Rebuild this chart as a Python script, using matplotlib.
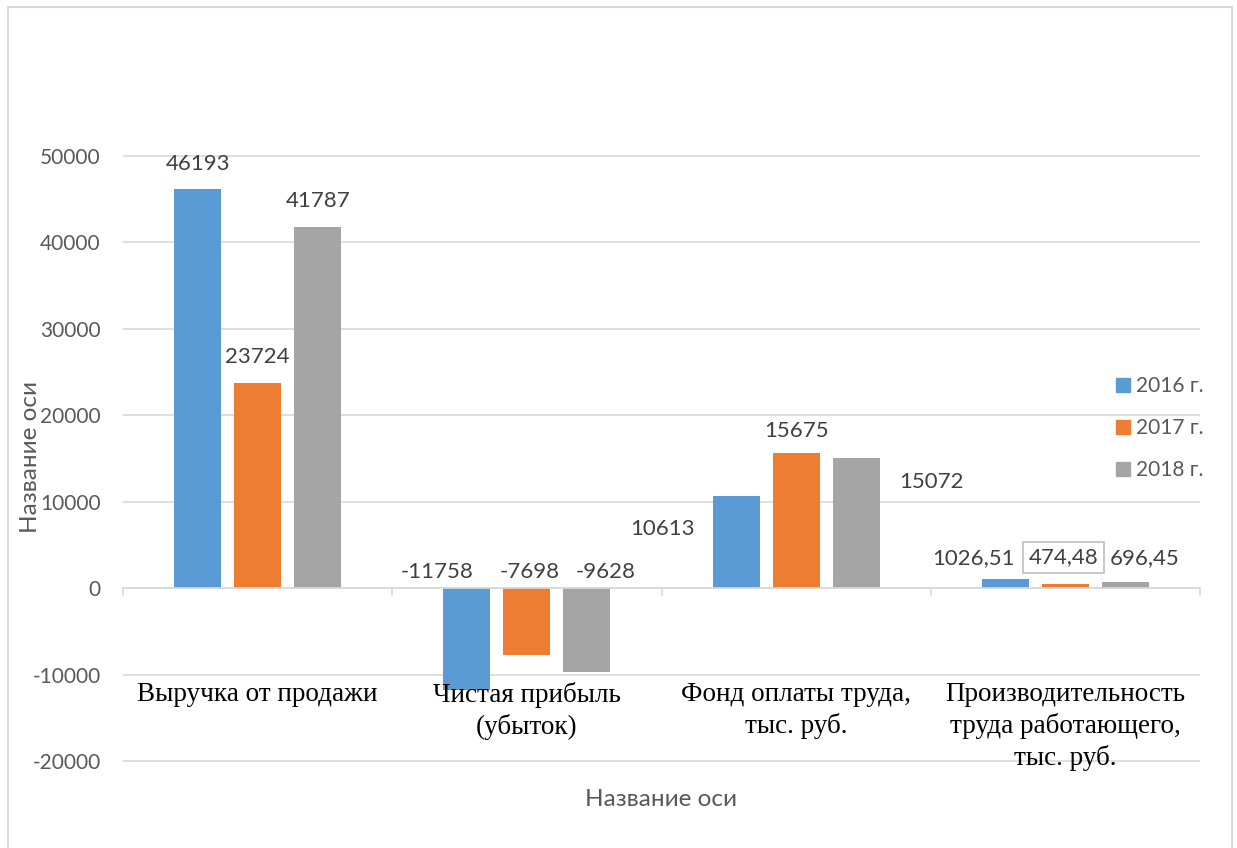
import numpy as np
import matplotlib
matplotlib.use("Agg")
import matplotlib.pyplot as plt
from matplotlib.patches import Patch, Rectangle

plt.rcParams["axes.unicode_minus"] = False

# data
categories = ["Выручка от продажи", "Чистая прибыль\n(убыток)",
              "Фонд оплаты труда,\nтыс. руб.",
              "Производительность\nтруда работающего,\nтыс. руб."]
series_names = ["2016 г.", "2017 г.", "2018 г."]
v2016 = [46193, -11758, 10613, 1026.51]
v2017 = [23724, -7698, 15675, 474.48]
v2018 = [41787, -9628, 15072, 696.45]
colors = ["#5B9BD5", "#ED7D31", "#A5A5A5"]

# label offsets in pixels (dx, dy) relative to bar top, mimic Excel placement
label_offsets = [
    [(0, 25), (-30, 16), (-74, -33), (-32, 21)],
    [(0, 26), (3, 16), (0, 22), (-2, 27)],
    [(0, 26), (19, 16), (75, -24), (19, 24)],
]

W, H = 1237, 848
fig = plt.figure(figsize=(W / 100, H / 100), dpi=100)
ax = fig.add_axes([123 / W, 1 - 762 / H, (1200 - 123) / W, (762 - 155) / H])

sans = "Lato"
serif = "Liberation Serif"
grid_c = "#d9d9d9"

x = np.arange(len(categories))
step = 0.223
width = 0.175
all_vals = [v2016, v2017, v2018]
for i, vals in enumerate(all_vals):
    xs = x + (i - 1) * step
    ax.bar(xs, vals, width=width, color=colors[i], zorder=3)
    for j, v in enumerate(vals):
        txt = f"{v:g}".replace(".", ",")
        dx, dy = label_offsets[i][j]
        box = None
        if i == 1 and j == 3:
            box = dict(boxstyle="square,pad=0.25", fc="white", ec="#bfbfbf", lw=1.2)
        ax.annotate(txt, xy=(xs[j], max(v, 0)), xytext=(dx, dy),
                    textcoords="offset pixels", ha="center", va="center",
                    fontsize=16, family=sans, color="#404040", zorder=5,
                    bbox=box)

# category names in serif, drawn over the plot
for j, name in enumerate(categories):
    ax.text(x[j], -10850, name, ha="center", va="top", fontsize=19.5,
            family=serif, color="black", linespacing=1.3, zorder=6)

ax.set_xlim(-0.5, 3.5)
ax.set_ylim(-20080, 50080)
ax.set_yticks(np.arange(-20000, 50001, 10000))
ax.yaxis.grid(True, color=grid_c, lw=1.2, zorder=0)
ax.set_axisbelow(True)
ax.tick_params(axis="y", length=0, pad=16, labelsize=15, labelcolor="#595959")
for lab in ax.get_yticklabels():
    lab.set_family(sans)

ax.set_xticks(np.arange(-0.5, 4, 1))
ax.set_xticklabels([])
ax.spines["bottom"].set_position(("data", 0))
ax.spines["bottom"].set_color(grid_c)
ax.spines["bottom"].set_linewidth(1.2)
ax.spines["bottom"].set_zorder(4)
ax.tick_params(axis="x", length=6, width=1.2, color=grid_c, direction="out")
for s in ["top", "right", "left"]:
    ax.spines[s].set_visible(False)

# axis titles
fig.text(31 / W, 1 - 457 / H, "Название оси", rotation=90, ha="center",
         va="center", fontsize=17.5, family=sans, color="#595959")
fig.text(661 / W, 1 - 800 / H, "Название оси", ha="center", va="center",
         fontsize=17.5, family=sans, color="#595959")

# legend
handles = [Patch(color=c, label=n) for c, n in zip(colors, series_names)]
leg = fig.legend(handles=handles, loc="center left",
                 bbox_to_anchor=(1116 / W, 1 - 428 / H), frameon=False,
                 handlelength=0.65, handleheight=0.65, handletextpad=0.3,
                 labelspacing=1.05, borderpad=0, borderaxespad=0,
                 prop={"family": sans, "size": 15})
for t in leg.get_texts():
    t.set_color("#595959")

# chart border
fig.add_artist(Rectangle((8 / W, -0.05), (1232 - 8) / W, 1.05 - 7 / H,
                         transform=fig.transFigure, fill=False,
                         ec=grid_c, lw=1.5))

fig.savefig("out.png", dpi=100)
